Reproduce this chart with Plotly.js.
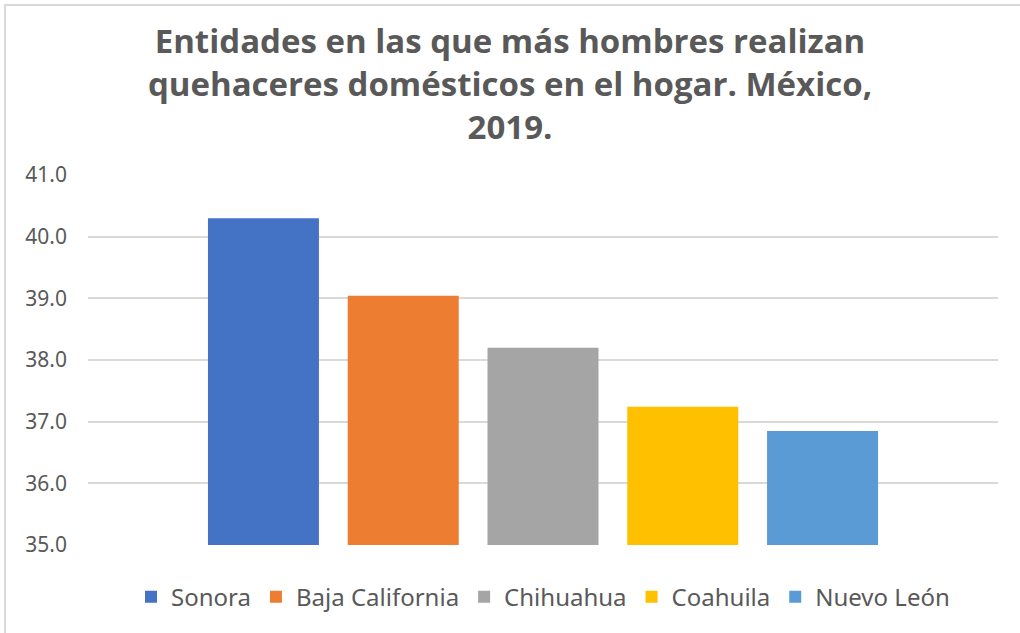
<!DOCTYPE html>
<html>
<head>
<meta charset="utf-8">
<script src="https://cdn.plot.ly/plotly-3.0.1.min.js"></script>
<style>
  body { margin: 0; background: #ffffff; }
  #wrap { position: relative; width: 1020px; height: 633px; overflow: hidden; }
  #frame { position: absolute; left: 4px; top: 4px; width: 1030px; height: 640px;
           border: 2px solid #d9d9d9; box-sizing: border-box; pointer-events: none; }
</style>
</head>
<body>
<div id="wrap">
  <div id="root" style="width:1020px;height:633px;"></div>
  <div id="frame"></div>
</div>
<script>
// entidades y porcentajes
var entidades = ['Sonora', 'Baja California', 'Chihuahua', 'Coahuila', 'Nuevo León'];
var valores = [40.3, 39.04, 38.2, 37.24, 36.85];
var colores = ['#4472c4', '#ed7d31', '#a5a5a5', '#ffc000', '#5b9bd5'];
var yTicks = [35, 36, 37, 38, 39, 40, 41];

function buildChart() {
    var data = [];
    for (var i = 0; i < entidades.length; i++) {
        data.push({
            x: [''],
            y: [valores[i]],
            type: 'bar',
            name: entidades[i],
            marker: {color: colores[i]},
            hoverinfo: 'name+y'
        });
    }

    var layout = {
        title: {
            text: 'Entidades en las que más hombres realizan<br>quehaceres domésticos en el hogar. México,<br>2019.',
            font: {family: 'Open Sans', size: 33, color: '#595959', weight: 'bold'},
            x: 0.5,
            xanchor: 'center',
            y: 0.916,
            yanchor: 'middle'
        },
        barmode: 'group',
        bargap: 0.232,
        bargroupgap: 0.206,
        plot_bgcolor: '#ffffff',
        paper_bgcolor: '#ffffff',
        margin: {l: 88, r: 22, t: 175, b: 88},
        xaxis: {
            showticklabels: false,
            showgrid: false,
            zeroline: false,
            showline: false
        },
        yaxis: {
            range: [35, 41],
            tickvals: yTicks,
            ticktext: yTicks.map(function (v) { return v.toFixed(1); }),
            showgrid: true,
            gridcolor: '#d9d9d9',
            gridwidth: 1.5,
            zeroline: false,
            showline: false,
            ticks: '',
            ticklabelstandoff: 20,
            tickfont: {family: 'Noto Sans', size: 21, color: '#595959'}
        },
        showlegend: true,
        legend: {
            orientation: 'h',
            x: 0.5,
            xanchor: 'center',
            y: -0.08,
            yanchor: 'top',
            font: {family: 'Noto Sans', size: 24, color: '#595959'},
            itemwidth: 30,
            tracegroupgap: 0
        },
        width: 1020,
        height: 633
    };

    Plotly.newPlot('root', data, layout, {displayModeBar: false});
}

buildChart();
</script>
</body>
</html>
